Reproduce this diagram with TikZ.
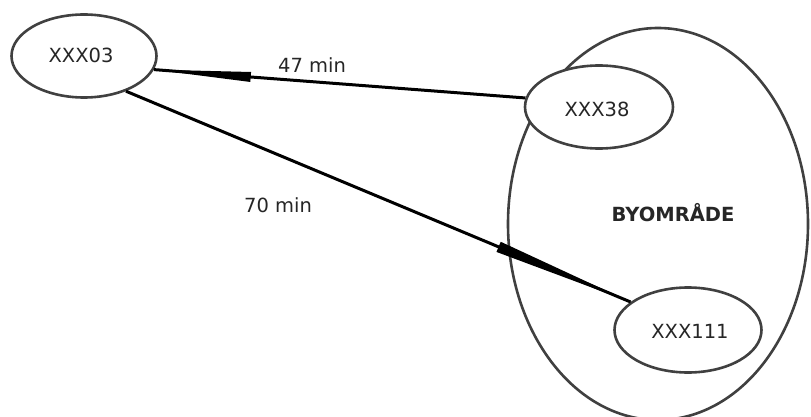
\documentclass[tikz,border=0pt]{standalone}
\usepackage{fontspec}
\setmainfont{DejaVu Sans}
\usetikzlibrary{shapes.geometric,calc}
\begin{document}
\begin{tikzpicture}[x=1pt,y=-1pt,
  oval/.style={ellipse,draw=black!75,line width=2.6pt,inner sep=0pt},
  lbl/.style={font=\fontsize{19.5}{23}\selectfont,text=black!85,inner sep=0pt,anchor=base},
  conn/.style={line width=3pt,black},
  wedge/.style={fill=black}]
\useasboundingbox (0,0) rectangle (811,417);
\node[oval,minimum width=300pt,minimum height=392pt] (city) at (658,224) {};
\node[oval,fill=white,minimum width=145pt,minimum height=83pt] (n03) at (84,56) {};
\node[oval,fill=white,minimum width=148pt,minimum height=83pt] (n38) at (599,107) {};
\node[oval,fill=white,minimum width=147pt,minimum height=85pt] (n111) at (688,330) {};
\node[lbl] (t03) at (81,63) {XXX03};
\node[lbl] (t38) at (597,117) {XXX38};
\node[lbl] (t111) at (690,338) {XXX111};
\node[lbl,font=\fontsize{19.5}{23}\selectfont\bfseries] (tcity) at (673,221) {BYOMRÅDE};
\node[lbl] (l47) at (312,73) {47 min};
\node[lbl] (l70) at (278,212) {70 min};
\coordinate (a1) at (n03.-11);
\coordinate (b1) at (n38.173);
\coordinate (a2) at (n03.-40);
\coordinate (b2) at (n111.154);
\draw[conn] (a1) -- (b1);
\draw[conn] (a2) -- (b2);
\fill[wedge] (a1) -- ($(a1)!97pt!(b1)!5pt!90:(b1)$) -- ($(a1)!97pt!(b1)!5pt!-90:(b1)$) -- cycle;
\fill[wedge] (b2) -- ($(b2)!143pt!(a2)!5.5pt!90:(a2)$) -- ($(b2)!143pt!(a2)!5.5pt!-90:(a2)$) -- cycle;
\end{tikzpicture}
\end{document}
